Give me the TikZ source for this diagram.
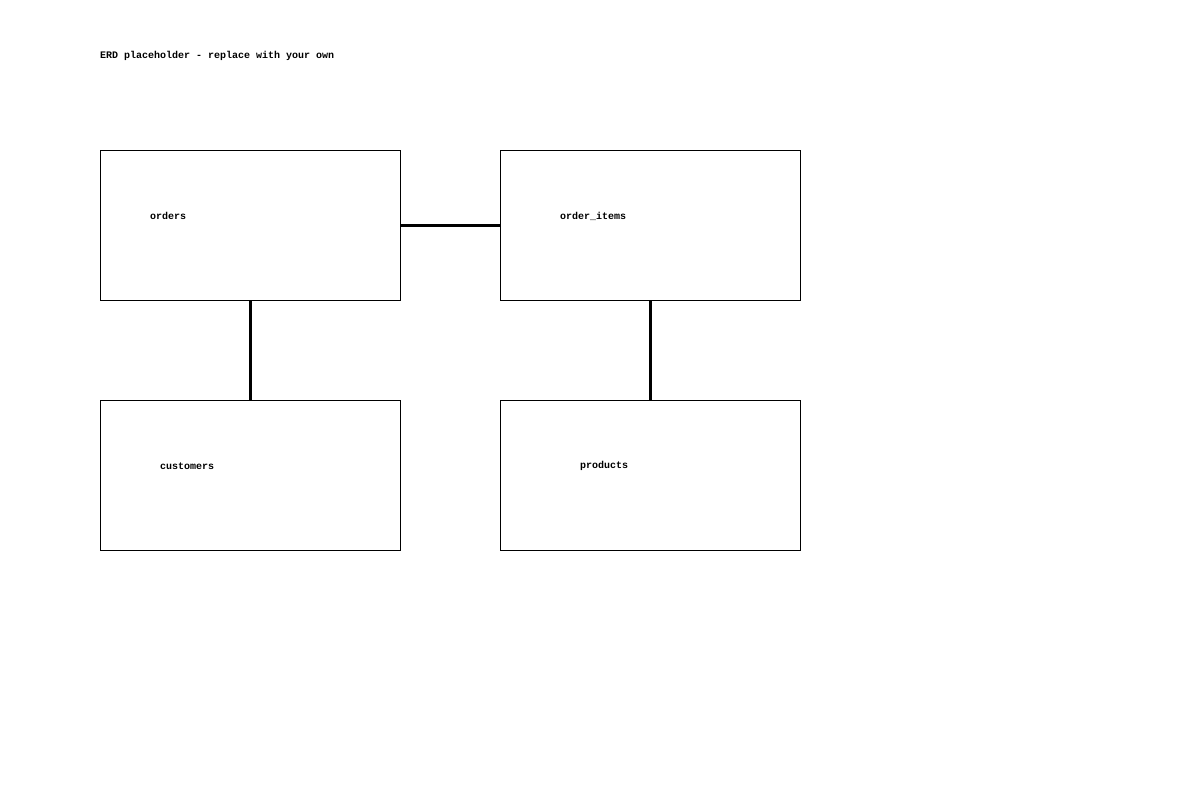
\documentclass[tikz,border=0pt]{standalone}
\usepackage{fontspec}
\setmonofont{Liberation Mono}
\usepackage{tikz}
\usetikzlibrary{positioning}
\begin{document}
\begin{tikzpicture}[x=1bp,y=-1bp,
  table/.style={draw,line width=0.8bp,minimum width=300bp,minimum height=150bp,inner sep=0pt,anchor=north west},
  tname/.style={anchor=west,inner sep=0pt,font=\ttfamily\bfseries\fontsize{10bp}{12bp}\selectfont},
  link/.style={line width=2.5bp}]
\useasboundingbox (0,0) rectangle (1200,800);
\node[tname] (title) at (100,56) {ERD placeholder - replace with your own};
% tables
\node[table] (orders) at (100,150) {};
\node[table] (items) at (500,150) {};
\node[table] (customers) at (100,400) {};
\node[table] (products) at (500,400) {};
\node[tname] (ordersname) at (150,216) {orders};
\node[tname] (itemsname) at (560,216) {order\_items};
\node[tname] (customersname) at (160,466) {customers};
\node[tname] (productsname) at (580,466) {products};
% relations
\draw[link] (orders.east) -- (items.west);
\draw[link] (orders.south) -- (customers.north);
\draw[link] (items.south) -- (products.north);
\end{tikzpicture}
\end{document}
